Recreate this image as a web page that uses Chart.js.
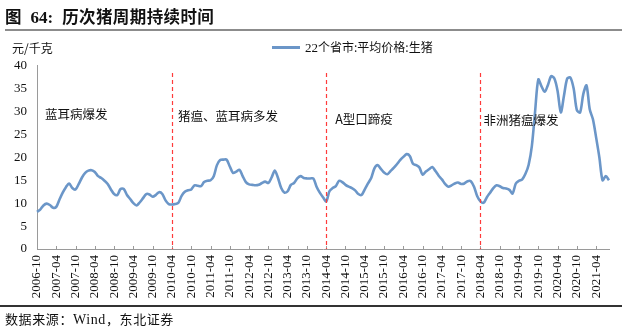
<!DOCTYPE html>
<html>
<head>
<meta charset="utf-8">
<script src="https://cdn.jsdelivr.net/npm/chart.js@4"></script>
<style>
  html,body{margin:0;padding:0;background:#fff;}
  #wrap{position:relative;width:641px;height:330px;overflow:hidden;}
  canvas{position:absolute;left:0;top:0;}
  .t{position:absolute;white-space:nowrap;color:#111;}
  #title{left:5px;top:4px;font:bold 16.5px "Noto Sans CJK SC";}
  #title .n{font:bold 17px "Liberation Serif";margin-left:9px;margin-right:9px;}
  #title .m{letter-spacing:0.4px;}
  #rule1{position:absolute;left:5px;top:29px;width:617px;height:2px;background:#8c8c8c;}
  #rule2{position:absolute;left:0px;top:305px;width:622px;height:1.5px;background:#333;}
  #unit{left:12px;top:39px;font:12px "Noto Sans CJK SC";}
  #legline{position:absolute;left:272px;top:46px;width:28px;height:2.5px;background:#6b96c8;}
  #legtxt{left:305px;top:38px;font:12px "Noto Sans CJK SC";}
  #legtxt .n{font:13px "Liberation Serif";}
  #src{left:5px;top:309px;font:13px "Noto Sans CJK SC";letter-spacing:0.6px;}
  #src .n{font:14px "Liberation Serif";}
</style>
</head>
<body>
<div id="wrap">
  <canvas id="c" width="641" height="330"></canvas>
  <div class="t" id="title">图<span class="n">64:</span><span class="m">历次猪周期持续时间</span></div>
  <div id="rule1"></div>
  <div class="t" id="unit">元/千克</div>
  <div id="legline"></div>
  <div class="t" id="legtxt"><span class="n">22</span>个省市:平均价格:生猪</div>
  <div id="rule2"></div>
  <div class="t" id="src">数据来源：<span class="n">Wind</span>，东北证券</div>
</div>
<script>
// ---- data ----
const startYear = 2006, startMonth = 10;
const seriesName = "22个省市:平均价格:生猪";
const hogPrice = [
  8.1, 8.6, 9.5, 9.9, 9.6, 9.0, 9.2, 10.8, 12.3, 13.5, 14.3, 13.3,
  13.0, 14.2, 15.6, 16.6, 17.1, 17.2, 16.8, 15.9, 15.5, 14.9, 14.2, 13.0,
  12.0, 11.8, 13.1, 13.1, 11.8, 10.9, 10.0, 9.5, 10.2, 11.1, 12.0, 11.9,
  11.4, 11.8, 12.4, 12.0, 10.6, 9.8, 9.7, 9.8, 10.1, 11.6, 12.5, 12.8,
  13.0, 13.9, 13.8, 13.7, 14.6, 14.9, 15.0, 15.9, 18.3, 19.4, 19.5, 19.5,
  18.0, 16.6, 16.9, 17.3, 15.9, 14.6, 14.1, 14.0, 13.9, 14.0, 14.4, 14.7,
  14.4, 15.6, 17.1, 15.5, 13.3, 12.3, 12.6, 14.0, 14.4, 15.4, 15.9, 15.5,
  15.4, 15.4, 15.4, 13.6, 12.3, 11.3, 10.4, 12.6, 13.3, 13.7, 14.9, 14.6,
  14.0, 13.6, 13.3, 12.8, 12.0, 11.8, 13.0, 14.3, 15.5, 17.6, 18.3, 17.5,
  16.7, 16.3, 17.0, 17.7, 18.5, 19.4, 20.1, 20.7, 20.3, 18.6, 18.3, 17.8,
  16.2, 16.9, 17.4, 17.9, 17.0, 16.0, 15.2, 14.2, 13.6, 13.9, 14.3, 14.5,
  14.2, 14.3, 14.8, 14.8, 13.6, 11.5, 10.4, 10.1, 11.3, 12.3, 13.3, 13.9,
  13.7, 13.3, 13.2, 12.9, 12.1, 14.3, 14.9, 15.2, 16.4, 18.4, 22.5, 30.0,
  37.0, 35.5, 34.3, 35.8, 37.7, 37.2, 34.5, 29.8, 33.5, 37.2, 37.4, 35.0,
  30.3, 29.8, 33.8, 35.7, 30.5, 28.3, 24.3, 20.0, 15.0, 15.9, 15.0
];
const months = [];
for (let i = 0; i < hogPrice.length; i++) {
  const t = startYear * 12 + (startMonth - 1) + i;
  const y = Math.floor(t / 12), m = t % 12 + 1;
  months.push(y + "-" + (m < 10 ? "0" + m : m));
}
const tickEvery = 6;
const eventMonths = ["2010-04", "2014-04", "2018-04"];
const eventLabels = ["蓝耳病爆发", "猪瘟、蓝耳病多发", "A型口蹄疫", "非洲猪瘟爆发"];
const eventLabelAnchors = ["2006-10", "2010-04", "2014-04", "2018-04"];
const eventLabelLevels = [29.4, 29.0, 28.4, 28.1];
const eventLabelOffsets = [8, 6, 9, 3];
const yTicks = [0, 5, 10, 15, 20, 25, 30, 35, 40];

const overlay = {
  id: 'overlay',
  afterDatasetsDraw(chart) {
    const ctx = chart.ctx, xs = chart.scales.x, ys = chart.scales.y;
    const bottom = chart.chartArea.bottom;
    ctx.save();
    // inward tick marks
    ctx.strokeStyle = '#9a9a9a'; ctx.lineWidth = 1;
    for (let i = 0; i < months.length; i += tickEvery) {
      const x = Math.round(xs.getPixelForValue(i)) + 0.5;
      ctx.beginPath(); ctx.moveTo(x, bottom); ctx.lineTo(x, bottom - 3); ctx.stroke();
    }
    // dashed event lines
    ctx.strokeStyle = '#ff3b3b'; ctx.lineWidth = 1.2; ctx.setLineDash([4, 3]);
    eventMonths.forEach(em => {
      const x = Math.round(xs.getPixelForValue(months.indexOf(em))) + 0.5;
      ctx.beginPath(); ctx.moveTo(x, ys.getPixelForValue(38.4)); ctx.lineTo(x, bottom); ctx.stroke();
    });
    ctx.setLineDash([]);
    // event labels
    ctx.fillStyle = '#111'; ctx.textBaseline = 'middle'; ctx.textAlign = 'left';
    ctx.font = '12.5px "Noto Sans CJK SC"';
    eventLabels.forEach((txt, k) => {
      const x = xs.getPixelForValue(months.indexOf(eventLabelAnchors[k])) + eventLabelOffsets[k];
      const y = ys.getPixelForValue(eventLabelLevels[k]);
      ctx.fillText(txt, x, y);
    });
    ctx.restore();
  }
};

new Chart(document.getElementById('c'), {
  type: 'line',
  data: {
    labels: months,
    datasets: [{
      label: seriesName,
      data: hogPrice,
      borderColor: '#6b96c8',
      borderWidth: 2.6,
      pointRadius: 0,
      tension: 0.3,
      fill: false
    }]
  },
  options: {
    responsive: false,
    animation: false,
    devicePixelRatio: 1,
    layout: { padding: { left: 0, top: 65.7, right: 32, bottom: 0 } },
    plugins: { legend: { display: false }, title: { display: false }, tooltip: { enabled: false } },
    scales: {
      x: {
        type: 'category',
        offset: false,
        grid: { display: false, drawTicks: false },
        border: { display: true, color: '#9a9a9a', width: 1 },
        ticks: {
          autoSkip: false, maxRotation: 90, minRotation: 90, padding: 6,
          color: '#111', font: { family: 'Liberation Serif', size: 13 },
          callback: function (v, i) { return i % tickEvery === 0 ? months[i] : null; }
        },
        afterFit(s) { s.height = 81; }
      },
      y: {
        min: 0, max: 40,
        afterBuildTicks(s) { s.ticks = yTicks.map(v => ({ value: v })); },
        grid: { display: false, drawTicks: false },
        border: { display: true, color: '#9a9a9a', width: 1 },
        ticks: { padding: 10, color: '#111', font: { family: 'Liberation Serif', size: 13 } },
        afterFit(s) { s.width = 37; }
      }
    }
  },
  plugins: [overlay]
});
</script>
</body>
</html>
